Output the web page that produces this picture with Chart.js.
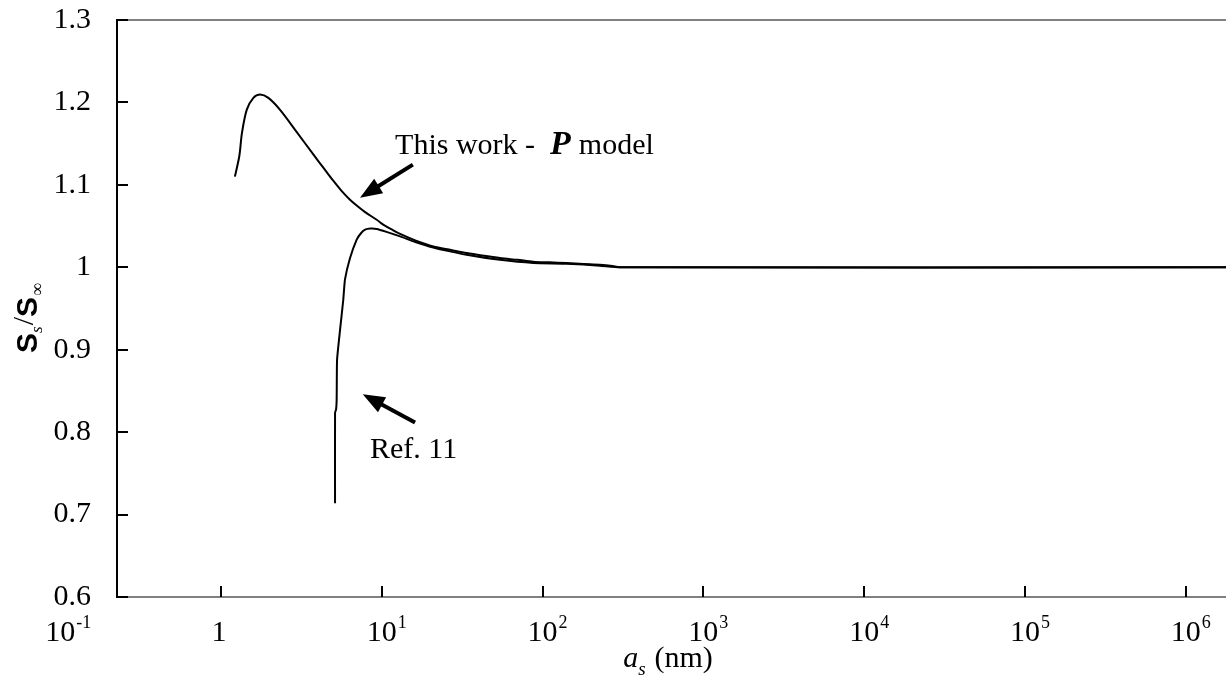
<!DOCTYPE html>
<html>
<head>
<meta charset="utf-8">
<script src="https://cdn.jsdelivr.net/npm/chart.js@4.4.1/dist/chart.umd.min.js"></script>
<style>
  html, body { margin: 0; padding: 0; background: #fff; }
  #wrap { width: 1226px; height: 680px; }
</style>
</head>
<body>
<div id="wrap"><canvas id="chart" width="1226" height="680"></canvas></div>
<script>
// particle size a_s (nm) and normalised ratio, P model
const modelX = [1.22, 1.30, 1.35, 1.445, 1.59, 1.75, 1.97, 2.33, 2.96, 3.75, 4.4, 4.99, 5.6, 6.34, 6.98, 8.0, 9.3, 10.2, 11.5, 13, 16, 20.9, 27, 33.7, 42, 54.3, 70, 87.5, 110, 141, 180, 227, 265, 320, 1.78e6];
const modelY = [1.110, 1.135, 1.163, 1.191, 1.2055, 1.2095, 1.2055, 1.191, 1.164, 1.137, 1.119, 1.105, 1.093, 1.082, 1.075, 1.066, 1.0577, 1.0517, 1.046, 1.0405, 1.033, 1.0253, 1.021, 1.0173, 1.0143, 1.0112, 1.009, 1.0068, 1.006, 1.0052, 1.004, 1.0031, 1.0018, 1.000, 1.000];

// Ref. 11 curve
const refX = [5.12, 5.12, 5.2, 5.24, 5.27, 5.5, 5.76, 5.9, 6.34, 6.98, 7.4, 7.87, 8.5, 9.3, 10.7, 13, 16, 20.9, 27, 33.7, 54.3, 87.5, 141, 227, 300, 1.78e6];
const refY = [0.7138, 0.8234, 0.828, 0.84, 0.8878, 0.924, 0.9606, 0.985, 1.011, 1.0335, 1.041, 1.0456, 1.047, 1.0465, 1.043, 1.0375, 1.031, 1.024, 1.019, 1.0152, 1.009, 1.0052, 1.0044, 1.002, 1.000, 1.000];

// axis ticks
const xTickExps = [-1, 0, 1, 2, 3, 4, 5, 6];
const yTicks = [0.6, 0.7, 0.8, 0.9, 1.0, 1.1, 1.2, 1.3];

const SERIF = '"Liberation Serif", "Times New Roman", serif';
const SANS = '"Liberation Sans", Arial, sans-serif';

// callouts, anchored in data units
const modelNote = { x: 12.1, y: 1.137 };
const refNote = { x: 8.45, y: 0.7684 };
const arrows = [
  { from: [15.6, 1.1245], to: [7.32, 1.0845] },
  { from: [16.1, 0.8116], to: [7.61, 0.846] }
];

const pts = (xs, ys) => xs.map((x, i) => ({ x: x, y: ys[i] }));

// draws a run of text pieces with their own fonts / vertical shifts
function drawRun(ctx, parts, x, y, align) {
  let total = 0;
  parts.forEach(p => { ctx.font = p.font; p.w = ctx.measureText(p.text).width; total += p.w + (p.gap || 0); });
  let cx = align === 'center' ? x - total / 2 : x;
  ctx.textAlign = 'left';
  ctx.textBaseline = 'alphabetic';
  parts.forEach(p => {
    ctx.font = p.font;
    ctx.fillText(p.text, cx, y + (p.dy || 0));
    cx += p.w + (p.gap || 0);
  });
}

function drawArrow(ctx, x0, y0, x1, y1) {
  const a = Math.atan2(y1 - y0, x1 - x0);
  const len = 22, half = 8.5;
  const bx = x1 - len * Math.cos(a), by = y1 - len * Math.sin(a);
  ctx.lineWidth = 4;
  ctx.lineCap = 'butt';
  ctx.beginPath();
  ctx.moveTo(x0, y0);
  ctx.lineTo(bx + 2 * Math.cos(a), by + 2 * Math.sin(a));
  ctx.stroke();
  ctx.beginPath();
  ctx.moveTo(x1, y1);
  ctx.lineTo(bx + half * Math.sin(a), by - half * Math.cos(a));
  ctx.lineTo(bx - half * Math.sin(a), by + half * Math.cos(a));
  ctx.closePath();
  ctx.fill();
}

const decorations = {
  id: 'decorations',
  afterDraw(chart) {
    const ctx = chart.ctx;
    const xs = chart.scales.x, ys = chart.scales.y;
    const area = chart.chartArea;
    ctx.save();
    ctx.fillStyle = '#000';

    // grey top frame line
    ctx.strokeStyle = '#808080';
    ctx.lineWidth = 2;
    ctx.beginPath();
    ctx.moveTo(area.left, area.top);
    ctx.lineTo(area.right, area.top);
    ctx.stroke();

    // inward tick marks
    ctx.strokeStyle = '#000';
    ctx.lineWidth = 2;
    yTicks.forEach(v => {
      const py = Math.round(ys.getPixelForValue(v));
      ctx.beginPath();
      ctx.moveTo(area.left, py);
      ctx.lineTo(area.left + 11, py);
      ctx.stroke();
    });
    xTickExps.forEach(e => {
      const v = Math.pow(10, e);
      if (v < xs.min) return;
      const px = Math.round(xs.getPixelForValue(v));
      ctx.beginPath();
      ctx.moveTo(px, area.bottom);
      ctx.lineTo(px, area.bottom - 11);
      ctx.stroke();
    });

    // x tick labels as powers of ten
    const base = 641;
    xTickExps.forEach(e => {
      const px = xs.getPixelForValue(Math.pow(10, e));
      ctx.textBaseline = 'alphabetic';
      ctx.font = '30px ' + SERIF;
      if (e === 0) {
        ctx.textAlign = 'center';
        ctx.fillText('1', px - 2, base);
        return;
      }
      const w = ctx.measureText('10').width;
      ctx.textAlign = 'center';
      ctx.fillText('10', px, base);
      ctx.font = '18px ' + SERIF;
      ctx.textAlign = 'left';
      ctx.fillText(e < 0 ? '-' + (-e) : String(e), px + w / 2 + 1, base - 13);
    });

    // x axis title
    drawRun(ctx, [
      { text: 'a', font: 'italic 30px ' + SERIF },
      { text: 's', font: 'italic 19px ' + SERIF, dy: 8, gap: 9 },
      { text: '(nm)', font: '30px ' + SERIF }
    ], 668, 667, 'center');

    // y axis title, rotated
    ctx.save();
    ctx.translate(37, 318);
    ctx.rotate(-Math.PI / 2);
    drawRun(ctx, [
      { text: 'S', font: 'bold 30px ' + SANS },
      { text: 's', font: 'italic 17px ' + SERIF, dy: 5, gap: 1 },
      { text: '/', font: '30px ' + SERIF, dy: -4 },
      { text: 'S', font: 'bold 30px ' + SANS, gap: 1 },
      { text: '\u221E', font: '18px ' + SERIF, dy: 6 }
    ], 0, 0, 'center');
    ctx.restore();

    // callout labels
    const m = [xs.getPixelForValue(modelNote.x), ys.getPixelForValue(modelNote.y)];
    drawRun(ctx, [
      { text: 'This work -  ', font: '30px ' + SERIF },
      { text: 'P', font: 'bold italic 34px ' + SERIF, gap: 8 },
      { text: 'model', font: '30px ' + SERIF }
    ], m[0], m[1], 'left');
    const r = [xs.getPixelForValue(refNote.x), ys.getPixelForValue(refNote.y)];
    drawRun(ctx, [{ text: 'Ref. 11', font: '30px ' + SERIF }], r[0], r[1], 'left');

    arrows.forEach(a => {
      drawArrow(ctx,
        xs.getPixelForValue(a.from[0]), ys.getPixelForValue(a.from[1]),
        xs.getPixelForValue(a.to[0]), ys.getPixelForValue(a.to[1]));
    });

    ctx.restore();
  }
};

const ctx = document.getElementById('chart').getContext('2d');
new Chart(ctx, {
  type: 'scatter',
  data: {
    datasets: [
      { label: 'This work - P model', data: pts(modelX, modelY), showLine: true, borderColor: '#000', borderWidth: 2, pointRadius: 0, tension: 0.3 },
      { label: 'Ref. 11', data: pts(refX, refY), showLine: true, borderColor: '#000', borderWidth: 2, pointRadius: 0, tension: 0.15 }
    ]
  },
  options: {
    responsive: false,
    animation: false,
    layout: { padding: { top: 20, left: 0, right: 0, bottom: 0 } },
    plugins: { legend: { display: false }, tooltip: { enabled: false } },
    scales: {
      x: {
        type: 'logarithmic',
        min: 0.2255,
        max: 1.78e6,
        ticks: { display: false },
        grid: { display: false },
        border: { display: true, color: '#808080', width: 2 },
        afterFit: s => { s.height = 83; s.paddingLeft = 0; s.paddingRight = 0; }
      },
      y: {
        type: 'linear',
        min: 0.6,
        max: 1.3,
        afterBuildTicks: s => { s.ticks = yTicks.map(v => ({ value: v })); },
        ticks: {
          padding: 26,
          color: '#000',
          font: { family: SERIF, size: 30 },
          callback: v => String(Math.round(v * 10) / 10)
        },
        grid: { display: false, drawTicks: false },
        border: { display: true, color: '#000', width: 2 },
        afterFit: s => { s.width = 117; s.paddingTop = 0; s.paddingBottom = 0; }
      }
    }
  },
  plugins: [decorations]
});
</script>
</body>
</html>
